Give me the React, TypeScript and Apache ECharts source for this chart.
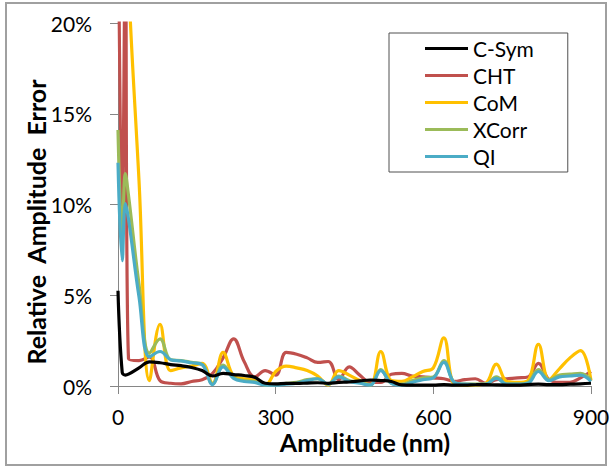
import React, { useEffect, useRef } from 'react';
import * as echarts from 'echarts';

const amplitudes = [0, 8, 14, 20, 40, 60, 80, 100, 120, 140, 160, 180, 200, 220, 240, 260, 280, 300, 320, 340, 360, 380, 400, 420, 440, 460, 480, 500, 520, 540, 560, 580, 600, 620, 640, 660, 680, 700, 720, 740, 760, 780, 800, 820, 840, 860, 880, 900];

const cSym = [5.25, 0.75, 0.6, 0.65, 1.0, 1.33, 1.28, 1.18, 1.12, 1.02, 0.85, 0.55, 0.7, 0.63, 0.58, 0.48, 0.15, 0.12, 0.15, 0.14, 0.16, 0.18, 0.15, 0.2, 0.22, 0.28, 0.33, 0.3, 0.25, 0.06, 0.05, 0.05, 0.05, 0.08, 0.05, 0.05, 0.07, 0.08, 0.06, 0.05, 0.05, 0.08, 0.1, 0.08, 0.08, 0.1, 0.12, 0.15];

const cht = [28, 9, 24, 1.5, 1.4, 1.6, 0.3, 0.15, 0.12, 0.25, 0.35, 0.7, 1.55, 2.6, 1.35, 0.5, 0.85, 0.6, 1.85, 1.75, 1.55, 1.3, 1.35, 0.35, 1.05, 0.6, 0.2, 0.2, 0.65, 0.7, 0.55, 0.5, 0.45, 0.4, 0.25, 0.35, 0.4, 0.15, 0.35, 0.4, 0.45, 0.5, 1.25, 0.35, 0.2, 0.2, 0.45, 0.8];

const com = [45, 36, 29, 22.3, 11.3, 0.3, 3.4, 0.85, 1.0, 1.1, 1.25, 0.15, 1.85, 0.55, 0.4, 0.3, 0.05, 0.8, 1.1, 1.0, 0.85, 0.55, 0.05, 0.85, 0.6, 0.3, 0.05, 1.9, 0.3, 0.25, 0.5, 0.8, 1.0, 2.65, 0.1, 0.05, 0.05, 0.15, 1.2, 0.25, 0.2, 0.3, 2.3, 0.35, 0.95, 1.55, 1.95, 0.3];

const xcorr = [14.1, 8.3, 11.7, 10.5, 5.6, 1.8, 2.6, 1.45, 1.4, 1.3, 1.2, 0.12, 1.15, 0.45, 0.3, 0.25, 0.08, 0.08, 0.15, 0.2, 0.35, 0.4, 0.1, 0.55, 0.3, 0.2, 0.08, 0.9, 0.15, 0.1, 0.3, 0.45, 0.5, 1.4, 0.2, 0.1, 0.1, 0.1, 0.5, 0.1, 0.1, 0.2, 0.9, 0.35, 0.6, 0.65, 0.7, 0.35];

const qi = [12.3, 6.9, 10.05, 9.2, 4.9, 1.6, 1.9, 1.45, 1.38, 1.28, 1.18, 0.08, 1.05, 0.42, 0.25, 0.2, 0.05, 0.05, 0.1, 0.15, 0.3, 0.4, 0.1, 0.5, 0.25, 0.15, 0.05, 0.85, 0.15, 0.05, 0.2, 0.35, 0.45, 1.3, 0.2, 0.1, 0.08, 0.1, 0.42, 0.1, 0.1, 0.15, 0.8, 0.3, 0.5, 0.55, 0.6, 0.25];

const legendNames = ['C-Sym', 'CHT', 'CoM', 'XCorr', 'QI'];
const xTitle = 'Amplitude (nm)';
const yTitle = 'Relative  Amplitude  Error';

export default function App() {
  const ref = useRef<HTMLDivElement>(null);
  useEffect(() => {
    const chart = echarts.init(ref.current!, null, { renderer: 'svg' });
    const pair = (vals: number[]) => vals.map((v, i) => [amplitudes[i], v]);
    const font = 'Lato';
    const mk = (name: string, vals: number[], color: string) => ({
      name,
      type: 'line',
      data: pair(vals),
      smooth: 0.4,
      showSymbol: false,
      symbol: 'none',
      clip: true,
      color,
      lineStyle: { width: 3.2, color },
    });
    chart.setOption({
      animation: false,
      backgroundColor: '#ffffff',
      grid: { left: 118, right: 22, top: 23, bottom: 83 },
      xAxis: {
        type: 'value',
        min: 0,
        max: 900,
        interval: 300,
        axisLine: { show: true, onZero: false, lineStyle: { color: '#868686', width: 1 } },
        axisTick: { show: true, length: 8, lineStyle: { color: '#868686' } },
        axisLabel: { margin: 20, fontSize: 21, fontFamily: font, color: '#000' },
        splitLine: { show: false },
      },
      yAxis: {
        type: 'value',
        min: 0,
        max: 20,
        interval: 5,
        axisLine: { show: true, lineStyle: { color: '#868686', width: 1 } },
        axisTick: { show: true, length: 8, lineStyle: { color: '#868686' } },
        axisLabel: { margin: 26, fontSize: 21, fontFamily: font, color: '#000', formatter: '{value}%' },
        splitLine: { show: false },
      },
      legend: {
        data: legendNames,
        orient: 'vertical',
        left: 389,
        top: 33,
        padding: [5, 34, 5, 36],
        itemGap: 6,
        itemWidth: 43,
        itemHeight: 3,
        icon: 'rect',
        borderColor: '#505050',
        borderWidth: 1,
        textStyle: { fontSize: 21, fontFamily: font, color: '#000', lineHeight: 21 },
      },
      graphic: [
        {
          type: 'rect',
          silent: true,
          shape: { x: 6, y: 3, width: 600, height: 462 },
          style: { fill: 'none', stroke: '#a0a0a0', lineWidth: 2 },
        },
        {
          type: 'text',
          x: 365,
          y: 442,
          silent: true,
          style: { text: xTitle, font: `bold 25px ${font}`, fill: '#000', textAlign: 'center', textVerticalAlign: 'middle' },
        },
        {
          type: 'text',
          x: 36,
          y: 222,
          rotation: Math.PI / 2,
          silent: true,
          style: { text: yTitle, font: `bold 25px ${font}`, fill: '#000', textAlign: 'center', textVerticalAlign: 'middle' },
        },
      ],
      series: [
        mk('CHT', cht, '#C0504D'),
        mk('CoM', com, '#FFC000'),
        mk('XCorr', xcorr, '#9BBB59'),
        mk('QI', qi, '#4BACC6'),
        mk('C-Sym', cSym, '#000000'),
      ],
    });
    return () => chart.dispose();
  }, []);
  return <div ref={ref} style={{ position: 'fixed', left: 0, top: 0, width: 613, height: 469 }} />;
}
